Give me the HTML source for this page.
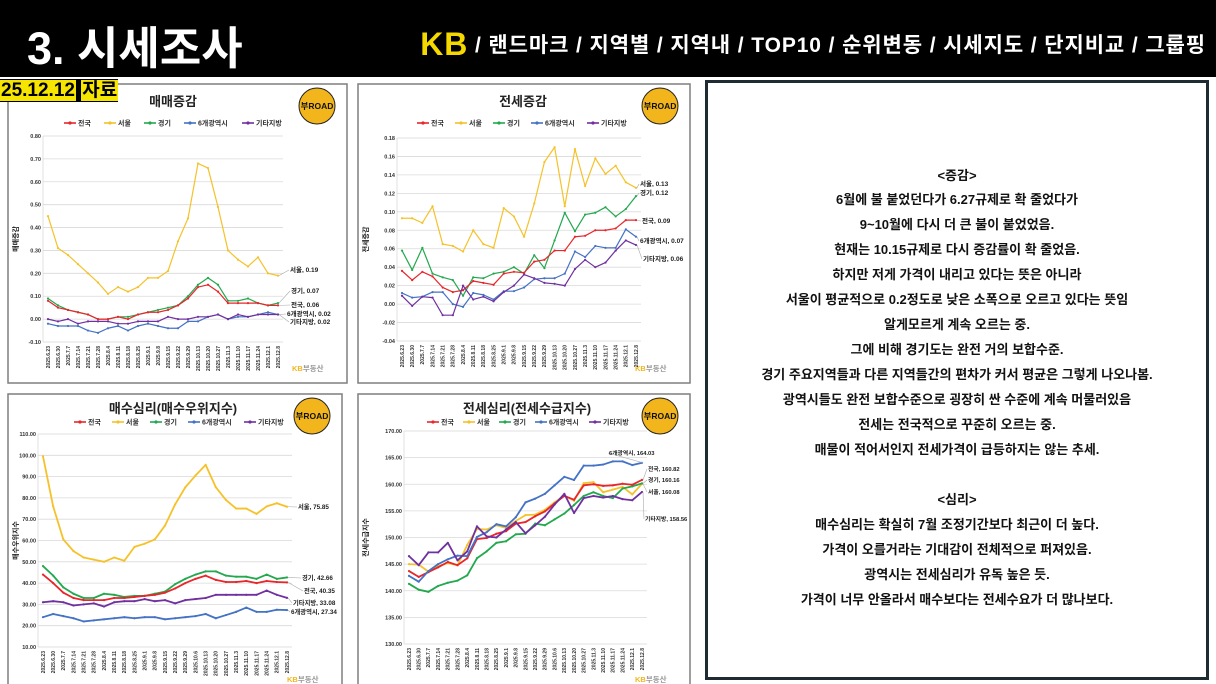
<!DOCTYPE html>
<html><head><meta charset="utf-8">
<style>
body{margin:0;width:1216px;height:684px;overflow:hidden;background:#fff;font-family:"Liberation Sans","Noto Sans CJK KR",sans-serif;position:relative}
#hdr{position:absolute;left:0;top:0;width:1216px;height:77px;background:#000}
#ttl{position:absolute;left:27px;top:12px;color:#fff;font-size:45px;font-weight:bold}
#nav{position:absolute;right:10px;top:26px;color:#fff;font-size:21px;font-weight:bold;white-space:nowrap;letter-spacing:0.9px}
#nav b{color:#f5d800;font-size:32px;vertical-align:-3px}
#date{position:absolute;left:0;top:79px;height:23px;background:#000;font-size:19px;font-weight:bold;line-height:23px;white-space:nowrap}
#date span{background:#f5e500;color:#000;padding:0 1px}
#box{position:absolute;left:705px;top:80px;width:498px;height:594px;border:3px solid #1e2b33;background:#fff}
#box p{margin:0;position:absolute;left:0;width:498px;text-align:center;font-size:13px;font-weight:bold;color:#111;white-space:nowrap}
svg{position:absolute;left:0;top:0}
</style></head><body>
<div id="hdr"></div>
<div id="ttl">3. 시세조사</div>
<div id="nav"><b>KB</b> / 랜드마크 / 지역별 / 지역내 / TOP10 / 순위변동 / 시세지도 / 단지비교 / 그룹핑</div>
<div id="box">
<p style="top:82px">&lt;증감&gt;</p>
<p style="top:106px">6월에 불 붙었던다가 6.27규제로 확 줄었다가</p>
<p style="top:131px">9~10월에 다시 더 큰 불이 붙었었음.</p>
<p style="top:156px">현재는 10.15규제로 다시 증감률이 확 줄었음.</p>
<p style="top:181px">하지만 저게 가격이 내리고 있다는 뜻은 아니라</p>
<p style="top:206px">서울이 평균적으로 0.2정도로 낮은 소폭으로 오르고 있다는 뜻임</p>
<p style="top:231px">알게모르게 계속 오르는 중.</p>
<p style="top:256px">그에 비해 경기도는 완전 거의 보합수준.</p>
<p style="top:281px">경기 주요지역들과 다른 지역들간의 편차가 커서 평균은 그렇게 나오나봄.</p>
<p style="top:306px">광역시들도 완전 보합수준으로 굉장히 싼 수준에 계속 머물러있음</p>
<p style="top:331px">전세는 전국적으로 꾸준히 오르는 중.</p>
<p style="top:356px">매물이 적어서인지 전세가격이 급등하지는 않는 추세.</p>
<p style="top:406px">&lt;심리&gt;</p>
<p style="top:431px">매수심리는 확실히 7월 조정기간보다 최근이 더 높다.</p>
<p style="top:456px">가격이 오를거라는 기대감이 전체적으로 퍼져있음.</p>
<p style="top:481px">광역시는 전세심리가 유독 높은 듯.</p>
<p style="top:506px">가격이 너무 안올라서 매수보다는 전세수요가 더 많나보다.</p>
</div>
<svg id="charts" width="700" height="684"></svg>
<div id="date"><span>25.12.12</span> <span>자료</span></div>
<script>
const seriesNames=["전국","서울","경기","6개광역시","기타지방"];
const dates24=["2025.6.23","2025.6.30","2025.7.7","2025.7.14","2025.7.21","2025.7.28","2025.8.4","2025.8.11","2025.8.18","2025.8.25","2025.9.1","2025.9.8","2025.9.15","2025.9.22","2025.9.29","2025.10.13","2025.10.20","2025.10.27","2025.11.3","2025.11.10","2025.11.17","2025.11.24","2025.12.1","2025.12.8"];
const dates25=["2025.6.23","2025.6.30","2025.7.7","2025.7.14","2025.7.21","2025.7.28","2025.8.4","2025.8.11","2025.8.18","2025.8.25","2025.9.1","2025.9.8","2025.9.15","2025.9.22","2025.9.29","2025.10.6","2025.10.13","2025.10.20","2025.10.27","2025.11.3","2025.11.10","2025.11.17","2025.11.24","2025.12.1","2025.12.8"];
// 매매증감
const sale_nat=[0.08,0.05,0.04,0.03,0.02,0.00,0.00,0.01,0.00,0.02,0.03,0.03,0.04,0.06,0.09,0.14,0.15,0.12,0.07,0.07,0.07,0.07,0.06,0.06];
const sale_seoul=[0.45,0.31,0.28,0.24,0.20,0.16,0.11,0.14,0.12,0.14,0.18,0.18,0.21,0.34,0.44,0.68,0.66,0.49,0.30,0.26,0.23,0.27,0.20,0.19];
const sale_gg=[0.09,0.06,0.04,0.03,0.02,0.00,0.00,0.01,0.01,0.02,0.03,0.04,0.05,0.06,0.10,0.15,0.18,0.15,0.08,0.08,0.09,0.07,0.06,0.07];
const sale_metro=[-0.02,-0.03,-0.03,-0.03,-0.05,-0.06,-0.04,-0.03,-0.05,-0.03,-0.02,-0.03,-0.04,-0.04,-0.01,-0.01,0.01,0.02,0.00,0.01,0.01,0.02,0.03,0.02];
const sale_etc=[0.00,-0.01,0.00,-0.02,-0.01,-0.01,-0.01,-0.02,-0.02,-0.01,-0.01,-0.01,0.01,0.00,0.00,0.01,0.01,0.02,0.00,0.02,0.01,0.02,0.02,0.02];
const sale_ticks=["0.80","0.70","0.60","0.50","0.40","0.30","0.20","0.10","0.00","-0.10"];
// 전세증감
const jeon_nat=[0.036,0.026,0.035,0.030,0.018,0.013,0.015,0.025,0.023,0.021,0.033,0.035,0.034,0.046,0.048,0.058,0.058,0.073,0.074,0.080,0.080,0.082,0.091,0.091];
const jeon_seoul=[0.093,0.093,0.088,0.106,0.065,0.063,0.057,0.080,0.065,0.061,0.104,0.095,0.073,0.109,0.154,0.170,0.106,0.168,0.128,0.158,0.141,0.150,0.132,0.126];
const jeon_gg=[0.058,0.037,0.061,0.033,0.029,0.026,0.009,0.029,0.028,0.033,0.035,0.040,0.033,0.053,0.039,0.069,0.099,0.079,0.097,0.099,0.105,0.095,0.103,0.117];
const jeon_metro=[0.012,0.007,0.008,0.013,0.013,0.000,-0.003,0.012,0.010,0.005,0.014,0.014,0.018,0.027,0.028,0.028,0.033,0.057,0.051,0.063,0.061,0.061,0.081,0.073];
const jeon_etc=[0.009,-0.002,0.008,0.007,-0.012,-0.012,0.020,0.005,0.008,0.003,0.013,0.020,0.032,0.028,0.023,0.022,0.020,0.038,0.048,0.040,0.045,0.058,0.069,0.064];
const jeon_ticks=["0.18","0.16","0.14","0.12","0.10","0.08","0.06","0.04","0.02","0.00","-0.02","-0.04"];
// 매수우위지수
const buy_nat=[44,40,35.5,33,32,32,32,33,33,33.5,34,34.5,35.5,37.5,40,42,43.5,41.5,40.5,40.5,41,40,41,40.5,40.35];
const buy_seoul=[99.5,76,60.5,55,52,51,50,52,50.5,57,58.5,60.5,67,77,85,90.5,95.5,85,79,75,75,72.5,76,77.5,75.85];
const buy_gg=[48,43.5,38,35,33,33,35,34.5,33.5,34,34,35,36,39.5,42,44,45.5,45.5,43.5,43,43,42,44,42,42.66];
const buy_metro=[24,25.5,24.5,23.5,22,22.5,23,23.5,24,23.5,24,24,23,23.5,24,24.5,25.5,23.5,25,26.5,28.5,26.5,26.5,27.5,27.34];
const buy_etc=[31,31.5,31,29.5,30,30.5,29,31,31.5,31.5,32.5,31.5,32,30.5,32,32.5,33,34.5,34.5,34.5,34.5,34.5,36.5,34.5,33.08];
const buy_ticks=["110.00","100.00","90.00","80.00","70.00","60.00","50.00","40.00","30.00","20.00","10.00"];
// 전세수급지수
const sup_nat=[143.7,142.6,143.5,144.4,145.4,144.8,146.1,149.7,149.9,150.7,151.2,152.6,152.9,154.0,154.9,156.4,157.8,157.1,159.8,160.0,159.7,159.8,160.1,159.9,160.82];
const sup_seoul=[145,144.9,143.6,144.6,145.2,144.8,148.6,151.6,151.5,152.3,151.8,153.1,154.2,154.3,155.2,156.6,157.9,156.9,160.2,160.4,158.5,159,159.5,158.1,160.08];
const sup_gg=[141.3,140.2,139.8,140.9,141.5,141.9,142.9,146.1,147.4,149.0,149.3,150.6,150.7,152.6,152.3,153.4,154.5,156.1,157.8,158.5,157.8,157.4,159.2,159.6,160.16];
const sup_metro=[142.8,141.7,143.7,145,145.9,146.6,146.5,150.1,151,152.5,152.1,153.8,156.6,157.3,158.2,159.8,161.4,160.8,163.5,163.5,163.7,164.3,164.3,163.6,164.03];
const sup_etc=[146.5,144.8,147.2,147.2,149,145.7,147.4,152.1,150.2,150,151.5,152.9,150.8,152.3,153.9,156.2,158.2,154.6,157.4,157.8,157.5,157.8,157.2,157,158.56];
const sup_ticks=["170.00","165.00","160.00","155.00","150.00","145.00","140.00","135.00","130.00"];

const COLORS=["#e8262b","#f5c22a","#22a84d","#4472c4","#7030a0"];
const NS="http://www.w3.org/2000/svg";
const svg=document.getElementById('charts');
function mk(tag,attrs,parent,txt){const e=document.createElementNS(NS,tag);for(const k in attrs)e.setAttribute(k,attrs[k]);if(txt!==undefined)e.textContent=txt;(parent||svg).appendChild(e);return e;}

function chart(c){
  const g=mk('g',{});
  
  
  const panel=mk('rect',{x:c.px,y:c.py,width:c.pw,height:c.ph,fill:'#fff',stroke:'#7f7f7f','stroke-width':1.5},g);
  
  
  const n=c.dates.length;
  const vmax=parseFloat(c.ticks[0]),vmin=parseFloat(c.ticks[c.ticks.length-1]);
  const xs=i=>c.x0+(c.x1-c.x0)*i/(n-1);
  const ys=v=>c.yT+(vmax-v)/(vmax-vmin)*(c.yB-c.yT);
  c.ticks.forEach(t=>{const y=ys(parseFloat(t));
    const l=mk('line',{x1:c.x0-5,x2:c.x1+5,y1:y,y2:y,stroke:'#d9d9d9','stroke-width':0.8},g);
    
    
    const tl=mk('text',{x:c.x0-7,y:y+2,'font-size':5.5,'font-weight':'bold','text-anchor':'end',fill:'#333'},g,t);
    
    
  });
  const ax=mk('line',{x1:c.x0-5,x2:c.x0-5,y1:c.yT,y2:c.yB,stroke:'#d9d9d9','stroke-width':0.8},g);
  
  
  c.dates.forEach((d,i)=>{const x=xs(i);
    const t=mk('text',{x:0,y:0,'font-size':5,'font-weight':'bold','text-anchor':'end',fill:'#333',transform:`translate(${x+1.8},${c.yB+4}) rotate(-90)`},g,d);
    
    
  });
  const yt=mk('text',{x:0,y:0,'font-size':7,'font-weight':'bold','text-anchor':'middle',fill:'#222',transform:`translate(${c.px+10},${(c.yT+c.yB)/2}) rotate(-90)`},g,c.ytitle);
  
  
  const tt=mk('text',{x:c.tx,y:c.ty,'font-size':13,'font-weight':'bold','text-anchor':'middle',fill:'#222'},g,c.title);
  
  
  const lw=[28,28,28,46,36];let cx=c.lx;
  seriesNames.forEach((s,k)=>{
    const lg=mk('g',{},g);
    
    
    mk('line',{x1:cx,x2:cx+12,y1:c.ly,y2:c.ly,stroke:COLORS[k],'stroke-width':1.6},lg);
    mk('circle',{cx:cx+6,cy:c.ly,r:1.6,fill:COLORS[k]},lg);
    mk('text',{x:cx+14,y:c.ly+2.5,'font-size':7,'font-weight':'bold',fill:'#333'},lg,s);
    cx+=lw[k]+c.lg;
  });
  const lgo=mk('g',{},g);
  
  
  mk('circle',{cx:c.px+c.pw-30,cy:c.py+22,r:18,fill:'#f2b51c',stroke:'#222','stroke-width':1},lgo);
  mk('text',{x:c.px+c.pw-30,y:c.py+25,'font-size':8.5,'font-weight':'bold','text-anchor':'middle',fill:'#111'},lgo,'부ROAD');
  const kb=mk('text',{x:c.px+c.pw-55,y:c.py+c.ph-12,'font-size':7.5,'font-weight':'bold',fill:'#f2b51c'},g,'KB');
  
  
  mk('tspan',{fill:'#999'},kb,'부동산');
  const order=[1,2,0,3,4];
  order.forEach(k=>{const vals=c.series[k];
    const pts=vals.map((v,i)=>xs(i)+','+ys(v)).join(' ');
    const pl=mk('polyline',{points:pts,fill:'none',stroke:COLORS[k],'stroke-width':c.sw,'stroke-linejoin':'round'},g);
    
    
    vals.forEach((v,i)=>{const m=mk('circle',{cx:xs(i),cy:ys(v),r:1.1,fill:COLORS[k]},g);
      
      });
  });
  c.ends.forEach(([k,lx,ly])=>{const vals=c.series[k];const v=vals[vals.length-1];
    const x=xs(n-1),y=ys(v);
    mk('polyline',{points:`${x+1},${y} ${lx-1},${ly-2}`,fill:'none',stroke:'#aaa','stroke-width':0.6},g);
    const lab=mk('text',{x:lx,y:ly,'font-size':c.efs,'font-weight':'bold',fill:'#222'},g,seriesNames[k]+', '+v.toFixed(2));
    
    
  });
}
chart({name:'sale-change-chart',px:8,py:84,pw:339,ph:299,x0:48,x1:278,yT:136,yB:342,ticks:sale_ticks,dates:dates24,
  series:[sale_nat,sale_seoul,sale_gg,sale_metro,sale_etc],title:'매매증감',tx:173,ty:106,lx:64,ly:123,lg:12,ytitle:'매매증감',sw:1.2,efs:6.5,
  ends:[[1,290,272],[2,291,293],[0,291,307],[3,287,316],[4,290,324]]});
chart({name:'jeonse-change-chart',px:358,py:84,pw:332,ph:299,x0:402,x1:636,yT:138,yB:341,ticks:jeon_ticks,dates:dates24,
  series:[jeon_nat,jeon_seoul,jeon_gg,jeon_metro,jeon_etc],title:'전세증감',tx:523,ty:106,lx:417,ly:123,lg:10,ytitle:'전세증감',sw:1.2,efs:6.5,
  ends:[[1,640,186],[2,640,195],[0,642,223],[3,640,243],[4,643,261]]});
chart({name:'buy-sentiment-chart',px:8,py:394,pw:334,ph:300,x0:43,x1:287,yT:434,yB:647,ticks:buy_ticks,dates:dates25,
  series:[buy_nat,buy_seoul,buy_gg,buy_metro,buy_etc],title:'매수심리(매수우위지수)',tx:173,ty:413,lx:74,ly:422,lg:10,ytitle:'매수우위지수',sw:1.8,efs:6.3,
  ends:[[1,298,509],[2,302,580],[0,304,593],[4,293,605],[3,291,614]]});
chart({name:'jeonse-sentiment-chart',px:358,py:394,pw:332,ph:300,x0:409,x1:642,yT:431,yB:644,ticks:sup_ticks,dates:dates25,
  series:[sup_nat,sup_seoul,sup_gg,sup_metro,sup_etc],title:'전세심리(전세수급지수)',tx:527,ty:413,lx:427,ly:422,lg:8,ytitle:'전세수급지수',sw:1.8,efs:5.8,
  ends:[[3,609,455],[0,648,471],[2,648,482],[1,648,494],[4,645,521]]});
</script>
</body></html>
